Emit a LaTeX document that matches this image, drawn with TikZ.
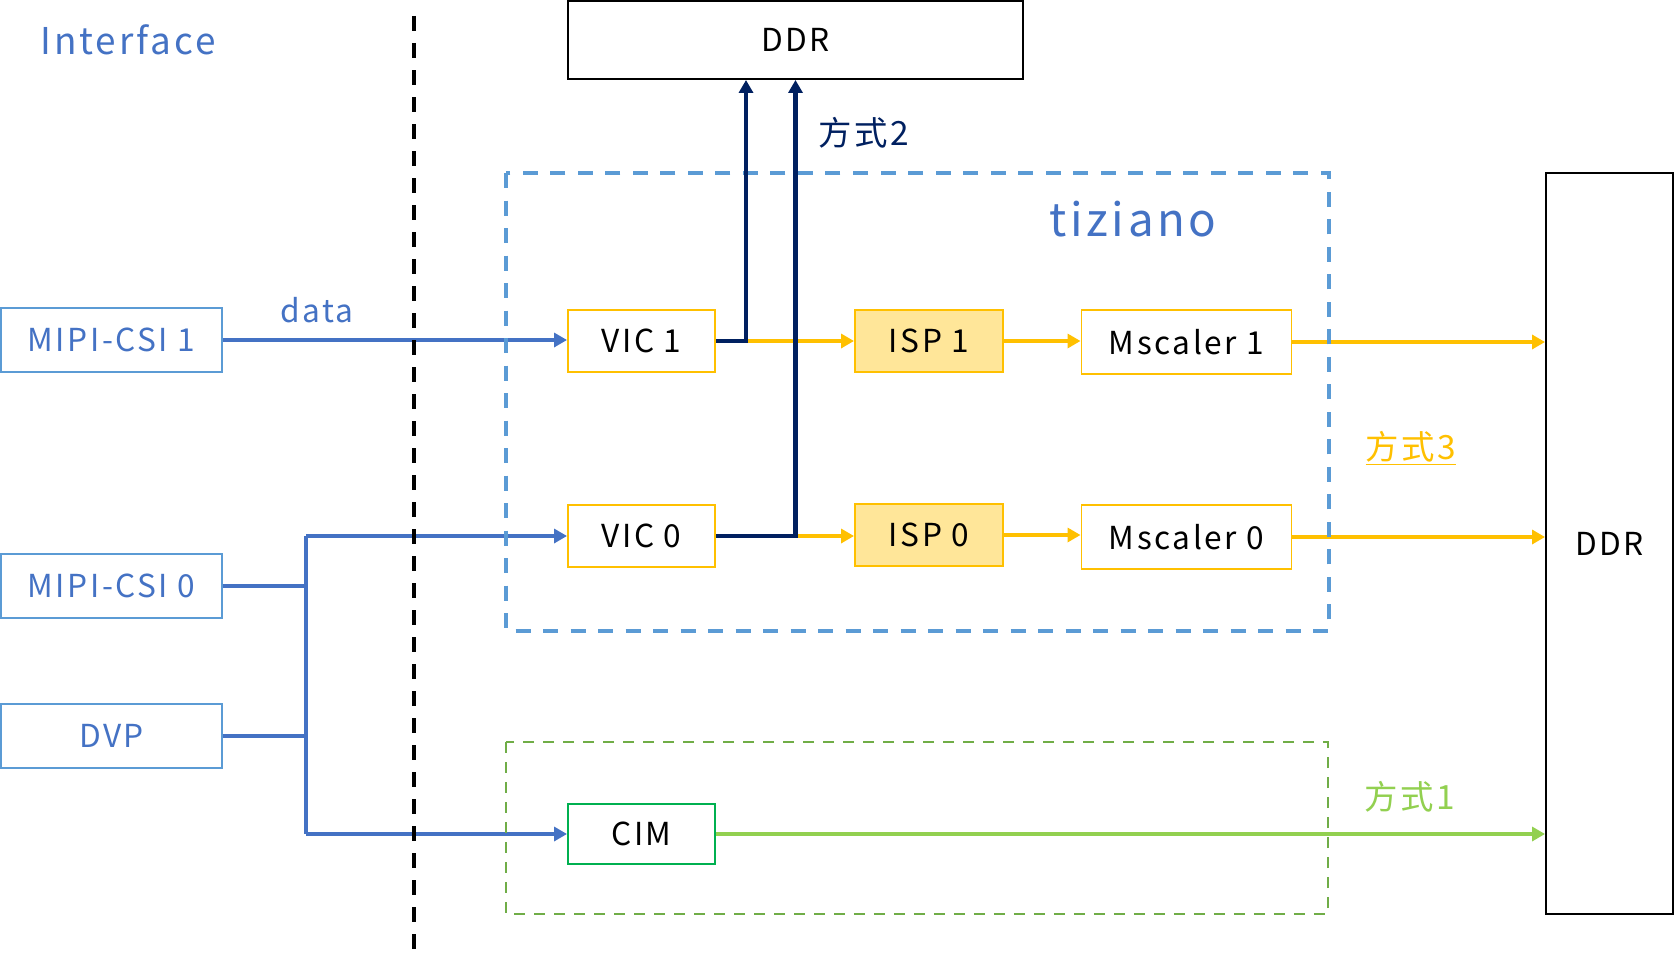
\documentclass[tikz,border=0pt]{standalone}
\usepackage{fontspec}
\setmainfont{Noto Sans CJK SC}[LetterSpace=8]
\usepackage{xcolor}
\definecolor{ifBlue}{HTML}{4472C4}
\definecolor{boxBlue}{HTML}{5B9BD5}
\definecolor{accYellow}{HTML}{FFC000}
\definecolor{ispFill}{HTML}{FFE699}
\definecolor{darkNavy}{HTML}{002060}
\definecolor{cimGreen}{HTML}{00B050}
\definecolor{lineGreen}{HTML}{92D050}
\definecolor{dashGreen}{HTML}{70AD47}
\usetikzlibrary{positioning, arrows.meta}

\begin{document}
\begin{tikzpicture}[
    >={Triangle[length=0.26cm, width=0.28cm]},
    block/.style={
        draw, line width=1.1pt, inner sep=0pt, fill=white,
        minimum width=2.94cm, minimum height=1.24cm,
        font=\fontsize{18}{20}\selectfont
    },
    srcbox/.style={block, draw=boxBlue, text=ifBlue,
        minimum width=4.42cm, minimum height=1.28cm},
    vicbox/.style={block, draw=accYellow},
    ispbox/.style={block, draw=accYellow, fill=ispFill, minimum width=2.96cm},
    mscbox/.style={block, draw=accYellow, minimum width=4.20cm, minimum height=1.28cm},
    ddrbox/.style={block, draw=black},
    % dashed frames
    groupbox/.style={line width=2pt, dash pattern=on 0.3cm off 0.25cm},
    % connectors
    flow/.style={->, line width=2.4pt},
    link/.style={line width=2.4pt},
    lbl/.style={inner sep=0pt, font=\fontsize{19}{21}\selectfont},
]

\path[fill=white] (0,0) rectangle (33.48,-19.14);
\useasboundingbox (0,0) rectangle (33.48,-19.14);

%% =================================================================
%% Interface side
%% =================================================================
\node[lbl, text=ifBlue, font=\fontsize{21}{23}\selectfont] (iface) at (2.56,-0.80) {Interface};

\node[srcbox] (mipi1) at (2.23,-6.80)  {MIPI-CSI 1};
\node[srcbox] (mipi0) at (2.23,-11.72) {MIPI-CSI 0};
\node[srcbox] (dvp)   at (2.23,-14.72) {DVP};

%% =================================================================
%% tiziano pipeline
%% =================================================================
\node[lbl, text=ifBlue, font=\fontsize{26}{28}\selectfont] (tizlbl) at (22.66,-4.38) {tiziano};

\node[vicbox] (vic1) at (12.83,-6.82)  {VIC 1};
\node[ispbox] (isp1) at (18.58,-6.82)  {ISP 1};
\node[mscbox] (msc1) at (23.73,-6.84)  {Mscaler 1};

\node[vicbox] (vic0) at (12.83,-10.72) {VIC 0};
\node[ispbox] (isp0) at (18.58,-10.70) {ISP 0};
\node[mscbox] (msc0) at (23.73,-10.74) {Mscaler 0};

\node[block, draw=cimGreen, minimum height=1.20cm] (cim) at (12.83,-16.68) {CIM};

%% =================================================================
%% Memory
%% =================================================================
\node[ddrbox, minimum width=9.10cm, minimum height=1.56cm] (ddrT) at (15.91,-0.80) {DDR};
\node[ddrbox, minimum width=2.54cm, minimum height=14.82cm] (ddrR) at (32.19,-10.87) {DDR};

%% labels
\node[lbl, text=ifBlue, font=\fontsize{18}{20}\selectfont] (datalbl) at (6.34,-6.20) {data};
\node[lbl, text=darkNavy] (way2) at (17.28,-2.66) {方式2};
\node[lbl, text=accYellow] (way3) at (28.22,-8.96) {\underline{方式3}};
\node[lbl, text=lineGreen] (way1) at (28.20,-15.94) {方式1};

%% =================================================================
%% Connectors
%% =================================================================
\coordinate (bustop) at (6.12,-10.72);
\coordinate (busbot) at (6.12,-16.68);

% input side
\draw[flow, ifBlue] (mipi1.east) -- (mipi1.east -| vic1.west);
\draw[link, ifBlue] (bustop) -- (busbot);
\draw[link, ifBlue] (mipi0.east) -- (mipi0.east -| bustop);
\draw[link, ifBlue] (dvp.east) -- (dvp.east -| bustop);
\draw[flow, ifBlue] (bustop) -- (vic0.west);
\draw[flow, ifBlue] (busbot) -- (cim.west);

% way 3
\draw[flow, accYellow] (vic1.east) -- (vic1.east -| isp1.west);
\draw[flow, accYellow] (isp1.east) -- (isp1.east -| msc1.west);
\draw[flow, accYellow] (msc1.east) -- (msc1.east -| ddrR.west);
\draw[flow, accYellow] (vic0.east) -- (vic0.east -| isp0.west);
\draw[flow, accYellow] (isp0.east) -- (isp0.east -| msc0.west);
\draw[flow, accYellow] (msc0.east) -- (msc0.east -| ddrR.west);

% way 1
\draw[flow, lineGreen] (cim.east) -- (cim.east -| ddrR.west);

%% dashed frames and split line
\draw[groupbox, boxBlue] (10.12,-3.46) rectangle (26.58,-12.62);
\draw[groupbox, dashGreen, line width=1.6pt, dash pattern=on 0.22cm off 0.18cm]
     (10.12,-14.84) rectangle (26.56,-18.28);
\draw[line width=2.4pt, dash pattern=on 0.3cm off 0.24cm] (8.28,-0.32) -- (8.28,-19.14);

% way 2
\draw[flow, darkNavy] (vic1.east) -| ([xshift=-0.99cm]ddrT.south);
\draw[flow, darkNavy] (vic0.east) -| (ddrT.south);

\end{tikzpicture}
\end{document}
